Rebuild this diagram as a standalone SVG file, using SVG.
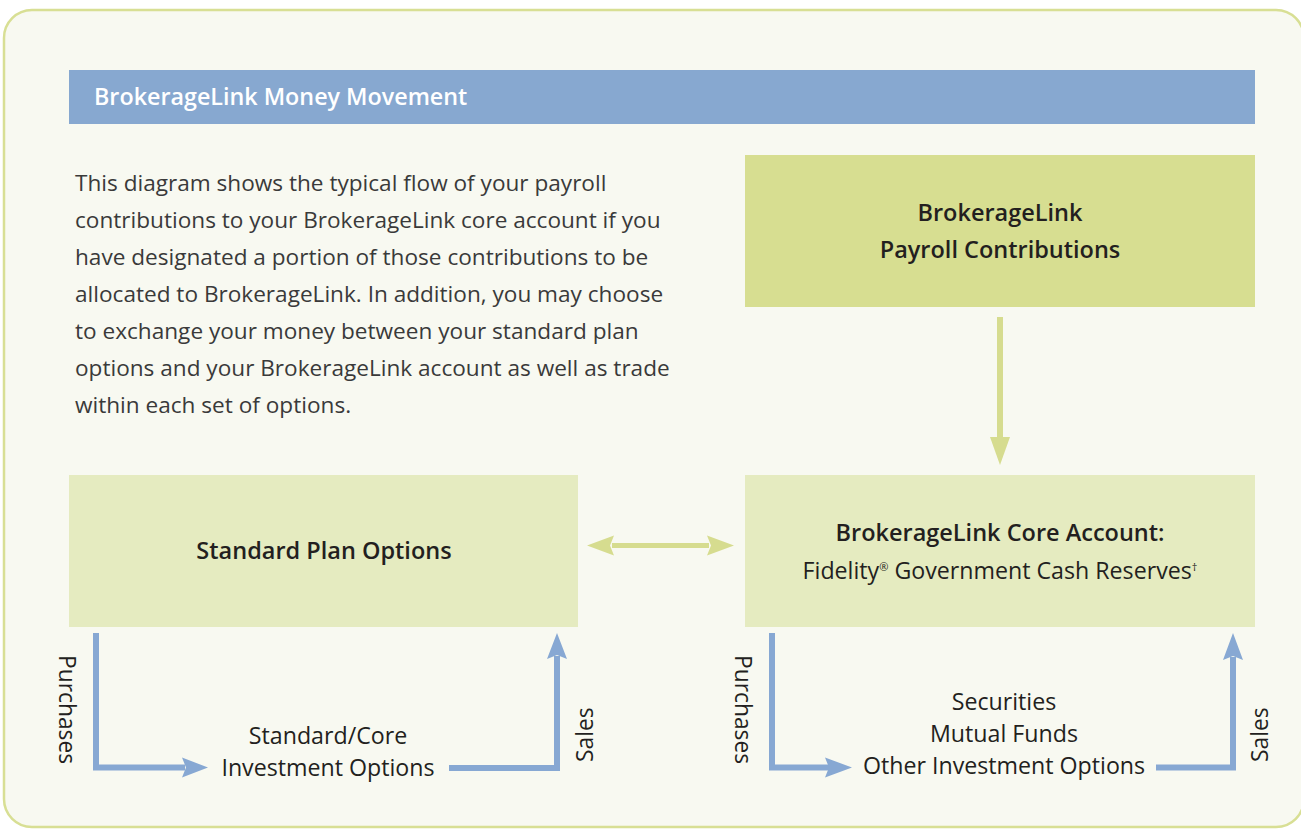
<svg xmlns="http://www.w3.org/2000/svg" width="1301" height="836" viewBox="0 0 1301 836">
<style>
.t{font-family:"Open Sans",Lato,sans-serif;fill:#231f20}
.p{font-size:22.6px;fill:#3a3a3a}
.b{font-weight:600;font-size:23.5px}
.r{font-size:23.2px}
.blue{fill:none;stroke:#87a8d3;stroke-width:6}
.grn{fill:none;stroke:#d6dc8f;stroke-width:6}
</style>
<rect x="4" y="10" width="1300" height="817" rx="28" fill="#f8f9f1" stroke="#d8df94" stroke-width="2.5"/>
<g id="header">
<rect x="69" y="70" width="1186" height="54" fill="#87a8d0"/>
<text x="94" y="105" class="t" style="font-size:23.3px;font-weight:600;fill:#fff">BrokerageLink Money Movement</text>
</g>
<g id="intro">
<text class="t p" x="75">
<tspan x="75" y="191">This diagram shows the typical flow of your payroll</tspan>
<tspan x="75" y="228">contributions to your BrokerageLink core account if you</tspan>
<tspan x="75" y="265">have designated a portion of those contributions to be</tspan>
<tspan x="75" y="302">allocated to BrokerageLink. In addition, you may choose</tspan>
<tspan x="75" y="339">to exchange your money between your standard plan</tspan>
<tspan x="75" y="376">options and your BrokerageLink account as well as trade</tspan>
<tspan x="75" y="413">within each set of options.</tspan>
</text>
</g>
<g id="payroll">
<rect x="745" y="155" width="510" height="152" fill="#d7de91"/>
<text class="t b" text-anchor="middle"><tspan x="1000" y="221">BrokerageLink</tspan><tspan x="1000" y="258">Payroll Contributions</tspan></text>
</g>
<g id="standard">
<rect x="69" y="475" width="509" height="152" fill="#e5ebc0"/>
<text class="t b" x="324" y="559" text-anchor="middle">Standard Plan Options</text>
</g>
<g id="core">
<rect x="745" y="475" width="510" height="152" fill="#e5ebc0"/>
<text class="t b" x="1000" y="541" text-anchor="middle">BrokerageLink Core Account:</text>
<text class="t r" x="1000" y="579" text-anchor="middle">Fidelity<tspan font-size="11" dy="-8">®</tspan><tspan dy="8"> Government Cash Reserves</tspan><tspan font-size="11" dy="-8">†</tspan></text>
</g>
<g id="std-investments">
<text class="t r" text-anchor="middle"><tspan x="328" y="744">Standard/Core</tspan><tspan x="328" y="776">Investment Options</tspan></text>
</g>
<g id="bl-investments">
<text class="t r" text-anchor="middle"><tspan x="1004" y="710">Securities</tspan><tspan x="1004" y="742">Mutual Funds</tspan><tspan x="1004" y="774">Other Investment Options</tspan></text>
</g>
<g id="connectors">
<line x1="1000" y1="317" x2="1000" y2="440" class="grn"/>
<path d="M990,437 L1010,437 L1000,465 Z" fill="#d6dc8f"/>
<line x1="612" y1="545.5" x2="709" y2="545.5" stroke="#d6dc8f" stroke-width="5"/>
<path d="M587,545.5 L614,535.5 L610,545.5 L614,555.5 Z" fill="#d6dc8f"/>
<path d="M734,545.5 L707,535.5 L711,545.5 L707,555.5 Z" fill="#d6dc8f"/>
<path d="M96,633 V767.5 H185" class="blue"/>
<path d="M208,767.5 L182,757.5 L186,767.5 L182,777.5 Z" fill="#87a8d3"/>
<path d="M449,768 H557 V656" class="blue"/>
<path d="M557,633 L547,659 L557,655 L567,659 Z" fill="#87a8d3"/>
<path d="M772,633 V767.5 H829" class="blue"/>
<path d="M852,767.5 L825,757.5 L829,767.5 L825,777.5 Z" fill="#87a8d3"/>
<path d="M1156,767.5 H1233 V657" class="blue"/>
<path d="M1233,633 L1223,660 L1233,656 L1243,660 Z" fill="#87a8d3"/>
</g>
<g id="labels">
<text class="t r" style="font-size:22.8px" transform="translate(59,655) rotate(90)">Purchases</text>
<text class="t r" style="font-size:22.8px" transform="translate(593,762) rotate(-90)">Sales</text>
<text class="t r" style="font-size:22.8px" transform="translate(735,655) rotate(90)">Purchases</text>
<text class="t r" style="font-size:22.8px" transform="translate(1268,762) rotate(-90)">Sales</text>
</g>
</svg>
